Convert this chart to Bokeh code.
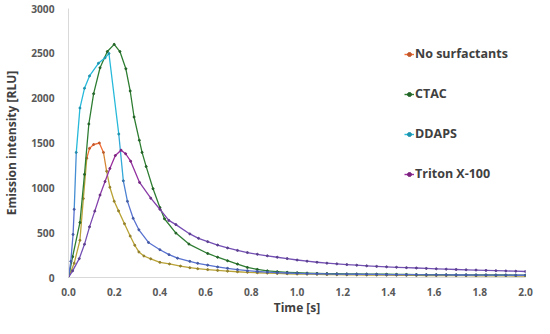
from bokeh.plotting import figure
from bokeh.models import Legend, LegendItem, FixedTicker, PrintfTickFormatter, Range1d, ColumnDataSource
from bokeh.embed import file_html
from bokeh.resources import INLINE

# ---------------- data ----------------
tail_t = [0.5655, 0.609, 0.6525, 0.696, 0.7395, 0.783, 0.8265, 0.87, 0.9135, 0.957,
          1.0005, 1.044, 1.0875, 1.131, 1.1745, 1.218, 1.2615, 1.305, 1.3485, 1.392,
          1.4355, 1.479, 1.5225, 1.566, 1.6095, 1.653, 1.6965, 1.74, 1.7835, 1.827,
          1.8705, 1.914, 1.9575, 2.0]

nosurf_t = [0, 0.025, 0.05, 0.065, 0.08, 0.092, 0.11, 0.135, 0.153, 0.167, 0.181, 0.2,
            0.219, 0.245, 0.27, 0.29, 0.308, 0.33, 0.36, 0.40, 0.442, 0.49, 0.531] + tail_t
nosurf_v = [0, 160, 415, 880, 1330, 1440, 1483, 1500, 1395, 1184, 1007, 850,
            743, 600, 462, 360, 285, 240, 208, 169, 151, 127, 109,
            98, 88, 79, 71, 64, 58, 53, 49, 45, 42, 39, 37, 35, 33, 31, 30, 29, 28,
            27, 26, 25, 24, 23, 22, 22, 21, 20, 20, 19, 19, 18, 18, 17, 17]

ctac_t = [0, 0.018, 0.05, 0.07, 0.089, 0.11, 0.138, 0.17, 0.2, 0.225, 0.251, 0.27,
          0.287, 0.31, 0.322, 0.34, 0.37, 0.40, 0.42, 0.47, 0.527] + tail_t[1:]
ctac_v = [0, 232, 613, 1150, 1712, 2050, 2339, 2520, 2600, 2520, 2328, 2080,
          1790, 1530, 1395, 1237, 990, 780, 655, 495, 373,
          268, 226, 187, 150, 112, 90, 74, 65, 58, 53, 49, 46, 44, 42, 40, 39, 38,
          37, 36, 35, 34, 33, 32, 32, 31, 30, 30, 29, 29, 28, 28, 27, 27]

ddaps_t = [0, 0.01, 0.02, 0.025, 0.034, 0.05, 0.07, 0.092, 0.131, 0.16, 0.177, 0.22,
           0.24, 0.258, 0.283, 0.308, 0.35, 0.40, 0.44, 0.477, 0.531] + tail_t
ddaps_v = [0, 180, 480, 760, 1395, 1890, 2110, 2248, 2389, 2450, 2498, 1600,
           1078, 849, 660, 532, 391, 310, 255, 215, 180,
           158, 138, 118, 102, 88, 76, 67, 59, 54, 50, 47, 44, 42, 40, 38, 37, 36,
           35, 34, 33, 32, 31, 31, 30, 29, 29, 28, 28, 27, 27, 26, 26, 25, 25]

triton_t = [0, 0.018, 0.047, 0.07, 0.092, 0.115, 0.138, 0.16, 0.181, 0.205, 0.23, 0.25,
            0.272, 0.311, 0.36, 0.40, 0.439, 0.47, 0.531, 0.569] + tail_t[1:]
triton_v = [0, 74, 210, 370, 565, 740, 920, 1070, 1216, 1360, 1420, 1380,
            1297, 1060, 885, 761, 637, 590, 486, 437,
            400, 362, 330, 302, 278, 259, 242, 226, 211, 195, 182, 170, 160, 152,
            144, 137, 130, 124, 119, 114, 110, 106, 101, 97, 93, 89, 86, 83, 79,
            76, 73, 70, 67]

series_names = ["No surfactants", "CTAC", "DDAPS", "Triton X-100"]
x_ticks = [0.0, 0.2, 0.4, 0.6, 0.8, 1.0, 1.2, 1.4, 1.6, 1.8, 2.0]
y_ticks = [0, 500, 1000, 1500, 2000, 2500, 3000]

# ---------------- styling ----------------
styles = [
    # (top colour, bottom colour, low threshold, high threshold)
    ("#F26D35", "#B9A236", 1150, 1430),
    ("#2E7D32", "#3F7A2E", 0, 1),
    ("#27B9DA", "#5872CF", 800, 1500),
    ("#9A2C9E", "#7450B4", 500, 1300),
]
data = [(nosurf_t, nosurf_v), (ctac_t, ctac_v), (ddaps_t, ddaps_v), (triton_t, triton_v)]


def hex2rgb(h):
    h = h.lstrip("#")
    return tuple(int(h[i:i + 2], 16) for i in (0, 2, 4))


def blend(top, bot, lo, hi, v):
    if hi <= lo:
        f = 1.0
    else:
        f = min(1.0, max(0.0, (v - lo) / (hi - lo)))
    a, b = hex2rgb(top), hex2rgb(bot)
    c = tuple(int(round(b[i] + (a[i] - b[i]) * f)) for i in range(3))
    return "#%02x%02x%02x" % c


def darker(h, k=0.8):
    r, g, b = hex2rgb(h)
    return "#%02x%02x%02x" % (int(r * k), int(g * k), int(b * k))


p = figure(width=534, height=318, output_backend="svg", toolbar_location=None,
           x_range=Range1d(0, 2.0), y_range=Range1d(0, 3000),
           min_border_left=67, min_border_right=9, min_border_top=8, min_border_bottom=40)
p.outline_line_color = None
p.xgrid.visible = False
p.ygrid.visible = False
p.background_fill_color = "white"
p.border_fill_color = "white"

nan = float("nan")
legend_items = []
for (ts, vs), name, (top, bot, lo, hi) in zip(data, series_names, styles):
    x0, x1 = ts[:-1], ts[1:]
    y0, y1 = vs[:-1], vs[1:]
    cols = [blend(top, bot, lo, hi, (a + b) / 2) for a, b in zip(y0, y1)]
    src = ColumnDataSource(dict(x0=x0, x1=x1, y0=y0, y1=y1, c=cols))
    p.segment("x0", "y0", "x1", "y1", source=src, line_color="c", line_width=1.3,
              line_cap="round")
    pcols = [darker(blend(top, bot, lo, hi, v)) for v in vs]
    p.scatter(ts, vs, size=2.0, color=pcols, marker="circle")
    lr = p.line([nan, nan], [nan, nan], line_color=top, line_width=1.4)
    sr = p.scatter([nan], [nan], size=3, color=darker(top), marker="circle")
    legend_items.append(LegendItem(label=name, renderers=[lr, sr]))

legend = Legend(items=legend_items, location=(336, 95), orientation="vertical",
                background_fill_alpha=0, border_line_color=None,
                glyph_width=10, glyph_height=16, label_height=16, spacing=23,
                padding=0, margin=0, label_standoff=1,
                label_text_font="Open Sans", label_text_font_style="bold",
                label_text_font_size="12.5px", label_text_color="#404040")
p.add_layout(legend, "center")

for ax in (p.xaxis[0], p.yaxis[0]):
    ax.axis_line_color = "#D9D9D9"
    ax.axis_line_width = 1
    ax.major_tick_line_color = None
    ax.minor_tick_line_color = None
    ax.major_label_text_font = "Open Sans"
    ax.major_label_text_font_style = "bold"
    ax.major_label_text_font_size = "10.2px"
    ax.major_label_text_color = "#595959"
    ax.axis_label_text_font = "Open Sans"
    ax.axis_label_text_font_style = "bold"
    ax.axis_label_text_font_size = "12px"
    ax.axis_label_text_color = "#404040"

p.xaxis.ticker = FixedTicker(ticks=x_ticks)
p.xaxis.formatter = PrintfTickFormatter(format="%.1f")
p.xaxis.major_label_standoff = 4
p.xaxis.axis_label = "Time [s]"
p.xaxis.axis_label_standoff = 0

p.yaxis.ticker = FixedTicker(ticks=y_ticks)
p.yaxis.major_label_standoff = 8
p.yaxis.axis_label = "Emission intensity [RLU]"
p.yaxis.axis_label_standoff = 8

open("out.html", "w").write(file_html(p, INLINE))
